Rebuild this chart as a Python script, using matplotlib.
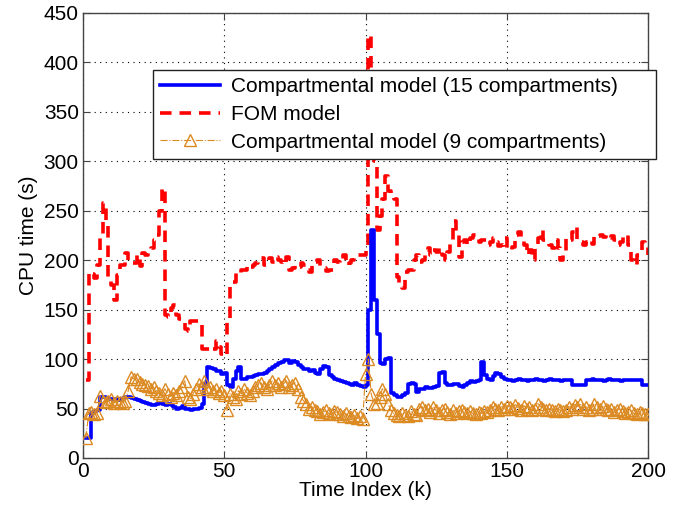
import numpy as np
import matplotlib
matplotlib.use("Agg")
import matplotlib.pyplot as plt

plt.rcParams["font.family"] = ["Liberation Sans", "DejaVu Sans"]

# CPU time per time index
cpu_15 = [
    20, 20, 45, 47, 48, 62, 62, 61, 60, 60,
    60, 59, 60, 61, 62, 62, 61, 60, 59, 58,
    57, 56, 55, 54, 54, 55, 56, 55, 54, 55,
    54, 52, 50, 51, 53, 50, 50, 49, 50, 50,
    51, 55, 75, 92, 91, 90, 88, 88, 85, 86,
    74, 72, 80, 88, 92, 80, 80, 82, 82, 83,
    84, 85, 85, 86, 88, 90, 92, 94, 96, 97,
    99, 99, 96, 98, 97, 94, 92, 90, 90, 88,
    89, 86, 85, 90, 93, 92, 84, 82, 80, 79,
    78, 77, 76, 75, 74, 76, 74, 73, 72, 74,
    150, 230, 160, 125, 96, 95, 100, 101, 66, 64,
    62, 62, 64, 66, 75, 76, 75, 67, 70, 70,
    72, 71, 71, 72, 73, 86, 87, 76, 74, 74,
    75, 75, 73, 72, 74, 76, 78, 77, 78, 79,
    97, 84, 80, 79, 83, 86, 85, 82, 80, 79,
    79, 78, 79, 80, 79, 79, 78, 79, 79, 80,
    79, 79, 78, 79, 80, 79, 79, 79, 78, 79,
    79, 79, 74, 74, 74, 74, 74, 79, 79, 80,
    79, 79, 79, 78, 79, 80, 79, 79, 79, 78,
    79, 79, 79, 79, 79, 79, 79, 74, 74, 74,
]

cpu_fom = [
    79, 188, 186, 182, 195, 225, 258, 240, 180, 175,
    160, 185, 195, 195, 207, 198, 197, 197, 205, 194,
    207, 205, 210, 212, 220, 225, 250, 273, 145, 143,
    152, 155, 145, 140, 138, 130, 128, 138, 138, 138,
    138, 110, 110, 110, 112, 110, 118, 112, 105, 103,
    140, 178, 178, 188, 187, 190, 190, 195, 193, 195,
    197, 200, 202, 195, 200, 202, 198, 203, 200, 198,
    195, 203, 190, 192, 195, 193, 197, 195, 190, 188,
    195, 198, 200, 194, 192, 189, 190, 190, 200, 198,
    197, 205, 195, 197, 200, 203, 205, 205, 205, 210,
    428, 380, 300, 230, 245, 262, 285, 270, 265, 262,
    183, 176, 172, 188, 190, 190, 200, 205, 198, 200,
    210, 212, 205, 210, 208, 212, 205, 200, 208, 218,
    240, 225, 203, 218, 220, 215, 222, 225, 222, 218,
    220, 220, 215, 218, 222, 218, 214, 215, 222, 212,
    210, 213, 225, 228, 220, 215, 205, 210, 200, 215,
    222, 230, 220, 218, 215, 212, 220, 212, 200, 205,
    222, 220, 228, 233, 220, 218, 215, 218, 220, 216,
    225, 224, 225, 223, 225, 222, 224, 220, 215, 218,
    224, 225, 215, 200, 195, 205, 210, 218, 215, 205,
]

cpu_9 = [
    20, 45, 46, 44, 45, 63, 58, 57, 58, 60,
    56, 58, 57, 56, 58, 68, 82, 80, 80, 77,
    75, 74, 73, 70, 72, 68, 66, 64, 70, 65,
    62, 66, 64, 68, 72, 78, 62, 60, 65, 70,
    75, 72, 78, 70, 72, 68, 70, 66, 68, 64,
    48, 65, 62, 60, 68, 65, 70, 66, 64, 68,
    72, 74, 76, 72, 70, 74, 78, 74, 76, 72,
    75, 78, 72, 74, 76, 70, 62, 58, 55, 50,
    52, 48, 47, 44, 46, 48, 45, 44, 47, 46,
    44, 42, 45, 42, 41, 43, 40, 42, 39, 85,
    100, 65, 55, 56, 62, 70, 65, 55, 48, 45,
    43, 42, 45, 43, 42, 47, 44, 43, 50, 52,
    48, 50, 46, 52, 48, 45, 48, 50, 46, 44,
    48, 45, 47, 48, 46, 45, 47, 45, 44, 46,
    45, 47, 46, 48, 52, 50, 48, 52, 50, 53,
    52, 50, 54, 51, 49, 53, 50, 52, 48, 50,
    55, 52, 50, 48, 50, 48, 47, 50, 48, 47,
    49, 52, 50, 54, 52, 55, 50, 52, 48, 50,
    55, 52, 50, 53, 50, 48, 50, 46, 48, 50,
    47, 45, 46, 48, 45, 44, 46, 45, 44, 44,
]

k = np.arange(1, len(cpu_15) + 1)

fig = plt.figure(figsize=(6.75, 5.14), dpi=100)
ax = fig.add_axes([0.123, 0.109, 0.837, 0.866])

orange = "#DC8A22"
ax.plot(k, cpu_15, color="#0000FF", lw=2.6, drawstyle="steps-post",
        label="Compartmental model (15 compartments)", zorder=3)
ax.plot(k, cpu_fom, color="#FF0000", lw=2.6, ls=(0, (3.2, 2.2)), drawstyle="steps-post",
        label="FOM model", zorder=2)
ax.plot(k, cpu_9, color=orange, lw=0.8, ls="-.", marker="^", ms=8.5,
        mfc="none", mec=orange, mew=1.0,
        label="Compartmental model (9 compartments)", zorder=4)

ax.set_xlim(0, 200)
ax.set_ylim(0, 450)
ax.set_xticks([0, 50, 100, 150, 200])
ax.set_yticks(np.arange(0, 451, 50))
ax.grid(True, ls=(0, (1, 4)), color="black", lw=0.8)
ax.tick_params(direction="in", length=5, top=True, right=True, labelsize=15,
               color="#444444", pad=3)
for s in ax.spines.values():
    s.set_color("#444444")
    s.set_linewidth(1.0)

ax.set_xlabel("Time Index (k)", fontsize=15, labelpad=0)
ax.set_ylabel("CPU time (s)", fontsize=15, labelpad=4)

leg = ax.legend(loc="upper left", bbox_to_anchor=(0.123, 0.674, 0.891, 0.198),
                mode="expand", borderaxespad=0, fontsize=15, fancybox=False,
                framealpha=1, edgecolor="#222222", handlelength=2.9,
                labelspacing=0.42, borderpad=0.35, handletextpad=0.5)
leg.get_frame().set_linewidth(1.0)
leg.set_zorder(10)

fig.savefig("out.png", dpi=100)
